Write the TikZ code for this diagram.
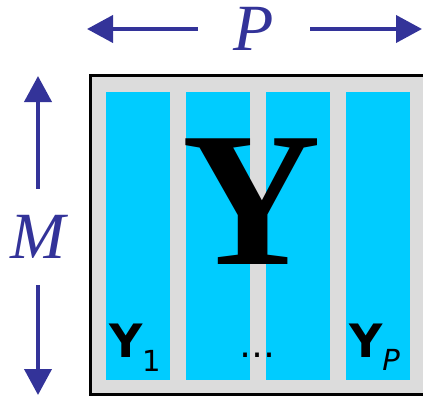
\documentclass[tikz,border=0pt]{standalone}
\usepackage{fontspec}
\setmainfont{Liberation Serif}
\newfontfamily\labelfont{DejaVu Sans}
\usetikzlibrary{arrows.meta,positioning}
\definecolor{mxblue}{RGB}{51,51,153}
\definecolor{mxcyan}{RGB}{0,204,255}
\definecolor{mxgray}{RGB}{220,220,220}

\begin{document}
\begin{tikzpicture}[
    x=1pt,y=-1pt,
    colbox/.style={fill=mxcyan,inner sep=0pt,minimum width=64pt,minimum height=288pt},
    dimlabel/.style={text=mxblue,inner sep=0pt,font=\fontsize{66}{66}\selectfont\itshape},
    dimarrow/.style={-{Triangle[length=26pt,width=27pt]},line width=4pt,mxblue},
    sublabel/.style={anchor=base west,inner sep=0pt,font=\fontsize{46}{46}\selectfont\labelfont\bfseries}
  ]
  \useasboundingbox (0,0) rectangle (423,396);
  \filldraw[fill=mxgray,draw=black,line width=3pt] (90,75.5) rectangle (426,394.5);
  \foreach \i in {1,...,4}
    \node[colbox] (col\i) at ({138+80*(\i-1)},236) {};
  \node[inner sep=0pt,font=\fontsize{192}{192}\selectfont\bfseries] (ybig) at (251.5,201.5) {Y};
  \node[sublabel] (y1) at ([shift={(3,-22.5)}]col1.south west) {Y\raisebox{-14pt}{\fontsize{29}{29}\selectfont\mdseries 1}};
  \node[sublabel] (yp) at ([shift={(3,-22.5)}]col4.south west) {Y\raisebox{-13pt}{\fontsize{29}{29}\selectfont\mdseries\itshape P}};
  \node[inner sep=0pt,anchor=base,font=\fontsize{36}{36}\selectfont\labelfont] (dots) at (257.5,357.5) {…};
  \node[dimlabel,minimum width=112pt] (plbl) at (254,29) {P};
  \coordinate (pleft) at (87,29);
  \coordinate (pright) at (422,29);
  \draw[dimarrow] (plbl.west) -- (pleft);
  \draw[dimarrow] (plbl.east) -- (pright);
  \node[dimlabel,minimum height=96pt] (mlbl) at (38,237) {M};
  \coordinate (mtop) at (38,76);
  \coordinate (mbot) at (38,395);
  \draw[dimarrow] (mlbl.north) -- (mtop);
  \draw[dimarrow] (mlbl.south) -- (mbot);
\end{tikzpicture}
\end{document}
